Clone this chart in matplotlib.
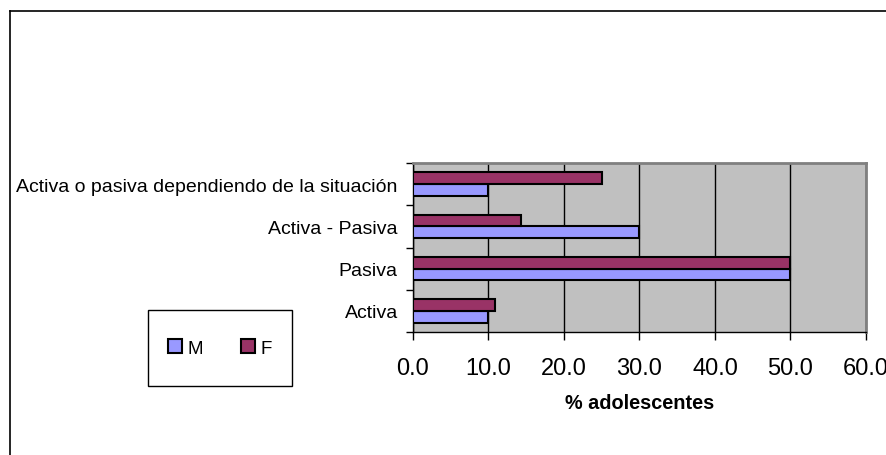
import matplotlib
matplotlib.use("Agg")
import matplotlib.pyplot as plt
from matplotlib.patches import Rectangle, Patch
from matplotlib.lines import Line2D
import numpy as np

categories = ["Activa", "Pasiva", "Activa - Pasiva", "Activa o pasiva dependiendo de la situación"]
series_names = ["M", "F"]
values_M = [10.0, 50.0, 30.0, 10.0]
values_F = [10.8, 50.0, 14.3, 25.0]
xticks = [0, 10, 20, 30, 40, 50, 60]
xlabel = "% adolescentes"

colors = {"M": "#9999FF", "F": "#993366"}

plt.rcParams['font.family'] = ['Liberation Sans', 'DejaVu Sans']

W, H = 887, 456
fig = plt.figure(figsize=(W / 100, H / 100), dpi=100)
fig.patch.set_facecolor("white")

# outer chart frame (cropped on right/bottom)
fig.add_artist(Line2D([10 / W, 10 / W], [0, 1 - 12 / H], color="black", lw=1.2, transform=fig.transFigure))
fig.add_artist(Line2D([10 / W, 1], [1 - 12 / H, 1 - 12 / H], color="black", lw=1.2, transform=fig.transFigure))

left, right, top, bottom = 413, 866, 164, 333
ax = fig.add_axes([left / W, 1 - bottom / H, (right - left) / W, (bottom - top) / H])
ax.set_facecolor("#C0C0C0")

y = np.arange(len(categories))
h = 0.28
ax.barh(y - h / 2, values_M, height=h, color=colors["M"], edgecolor="black", linewidth=1.5, zorder=3, label="M")
ax.barh(y + h / 2, values_F, height=h, color=colors["F"], edgecolor="black", linewidth=1.5, zorder=3, label="F")

ax.set_xlim(0, 60)
ax.set_ylim(-0.5, len(categories) - 0.5)
ax.set_xticks(xticks)
ax.set_xticklabels([f"{v:.1f}" for v in xticks], fontsize=17)
ax.set_yticks(y)
ax.set_yticklabels(categories, fontsize=14)
ax.set_yticks(np.arange(len(categories) + 1) - 0.5, minor=True)
ax.tick_params(axis="y", which="major", length=0, pad=11)
ax.tick_params(axis="y", which="minor", length=5, width=1, color="black")
ax.tick_params(axis="x", length=6, width=1, pad=12)
ax.grid(axis="x", color="black", lw=1, zorder=1)
ax.set_axisbelow(True)
for s in ["top", "right"]:
    ax.spines[s].set_color("#808080")
    ax.spines[s].set_linewidth(2)
for s in ["left", "bottom"]:
    ax.spines[s].set_color("black")
    ax.spines[s].set_linewidth(1)

ax.set_xlabel(xlabel, fontsize=14.3, fontweight="bold", labelpad=10)

# legend
lx0, ly0, lx1, ly1 = 148, 311, 292, 387
fig.add_artist(Rectangle((lx0 / W, 1 - ly1 / H), (lx1 - lx0) / W, (ly1 - ly0) / H,
                         transform=fig.transFigure, facecolor="white", edgecolor="black", lw=1))
handles = [Patch(facecolor=colors[n], edgecolor="black", linewidth=1.5) for n in series_names]
fig.legend(handles, series_names, loc="center", bbox_to_anchor=((lx0 + lx1) / 2 / W, 1 - (ly0 + ly1) / 2 / H),
           ncol=2, frameon=False, fontsize=13.5, handlelength=0.75, handleheight=0.75,
           handletextpad=0.3, columnspacing=2.0)

fig.savefig("out.png", dpi=100)
